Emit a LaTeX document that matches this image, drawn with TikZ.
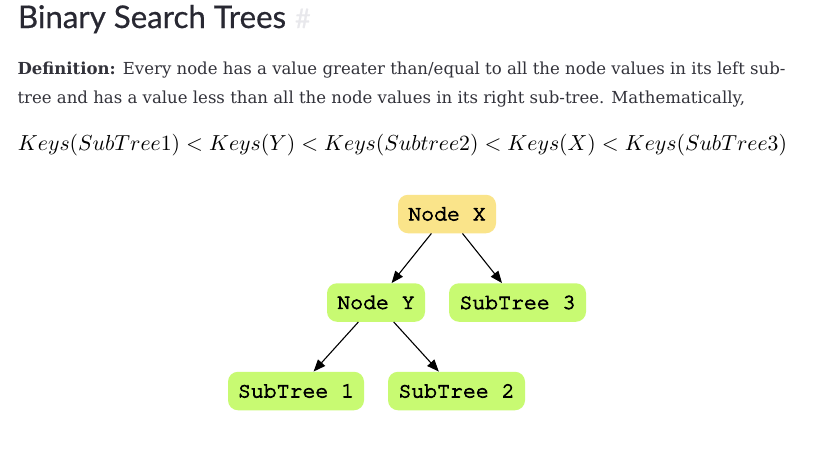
\documentclass[tikz,border=0pt]{standalone}
\usepackage[no-math]{fontspec}
\usetikzlibrary{arrows.meta}
\newfontfamily\headfont[FakeBold=0.6]{Lato}
\newfontfamily\bodyfont{DejaVu Serif}
\newfontfamily\codefont[FakeBold=3.5]{texgyrecursor-regular.otf}
\definecolor{headcol}{RGB}{40,40,50}
\definecolor{bodycol}{RGB}{50,50,58}
\definecolor{hashcol}{RGB}{232,232,236}
\definecolor{yel}{RGB}{250,228,138}
\definecolor{grn}{RGB}{200,250,114}
\tikzset{
  tnode/.style={rounded corners=10pt, inner sep=0pt, minimum height=38.5pt,
    font=\codefont\fontsize{21.5}{21.5}\selectfont, text=black},
  xnode/.style={tnode, fill=yel},
  gnode/.style={tnode, fill=grn},
  edge/.style={draw=black, line width=1.1pt, -{Triangle[length=12pt,width=9.5pt]}},
  txt/.style={anchor=base west, inner sep=0pt, outer sep=0pt}
}
\begin{document}
\begin{tikzpicture}[x=1pt,y=-1pt]
\useasboundingbox[fill=white] (0,0) rectangle (813,448);
\node[txt, text=headcol] (head) at (18,28) {\resizebox{268pt}{!}{\headfont Binary Search Trees}};
\node[txt, text=hashcol, font=\headfont\fontsize{27}{27}\selectfont] (hash) at (295,28) {\#};
\node[txt, text=bodycol, font=\bodyfont\fontsize{16.55}{16.55}\selectfont] (l1) at (17.5,74) {\textbf{Definition:} Every node has a value greater than/equal to all the node values in its left sub-};
\node[txt, text=bodycol, font=\bodyfont\fontsize{16.55}{16.55}\selectfont] (l2) at (17.5,103) {tree and has a value less than all the node values in its right sub-tree. Mathematically,};
\node[txt, text=black] (math) at (18,150) {\resizebox{769pt}{!}{$Keys(SubTree1) < Keys(Y) < Keys(Subtree2) < Keys(X) < Keys(SubTree3)$}};

\node[xnode, minimum width=98pt] (X) at (447,214) {Node X};
\node[gnode, minimum width=98pt] (Y) at (376,302.5) {Node Y};
\node[gnode, minimum width=137pt] (S3) at (517.5,302.5) {SubTree 3};
\node[gnode, minimum width=136pt] (S1) at (296,391) {SubTree 1};
\node[gnode, minimum width=137pt] (S2) at (456.5,391) {SubTree 2};

\draw[edge] (X) -- (Y);
\draw[edge] (X) -- (S3);
\draw[edge] (Y) -- (S1);
\draw[edge] (Y) -- (S2);
\end{tikzpicture}
\end{document}
